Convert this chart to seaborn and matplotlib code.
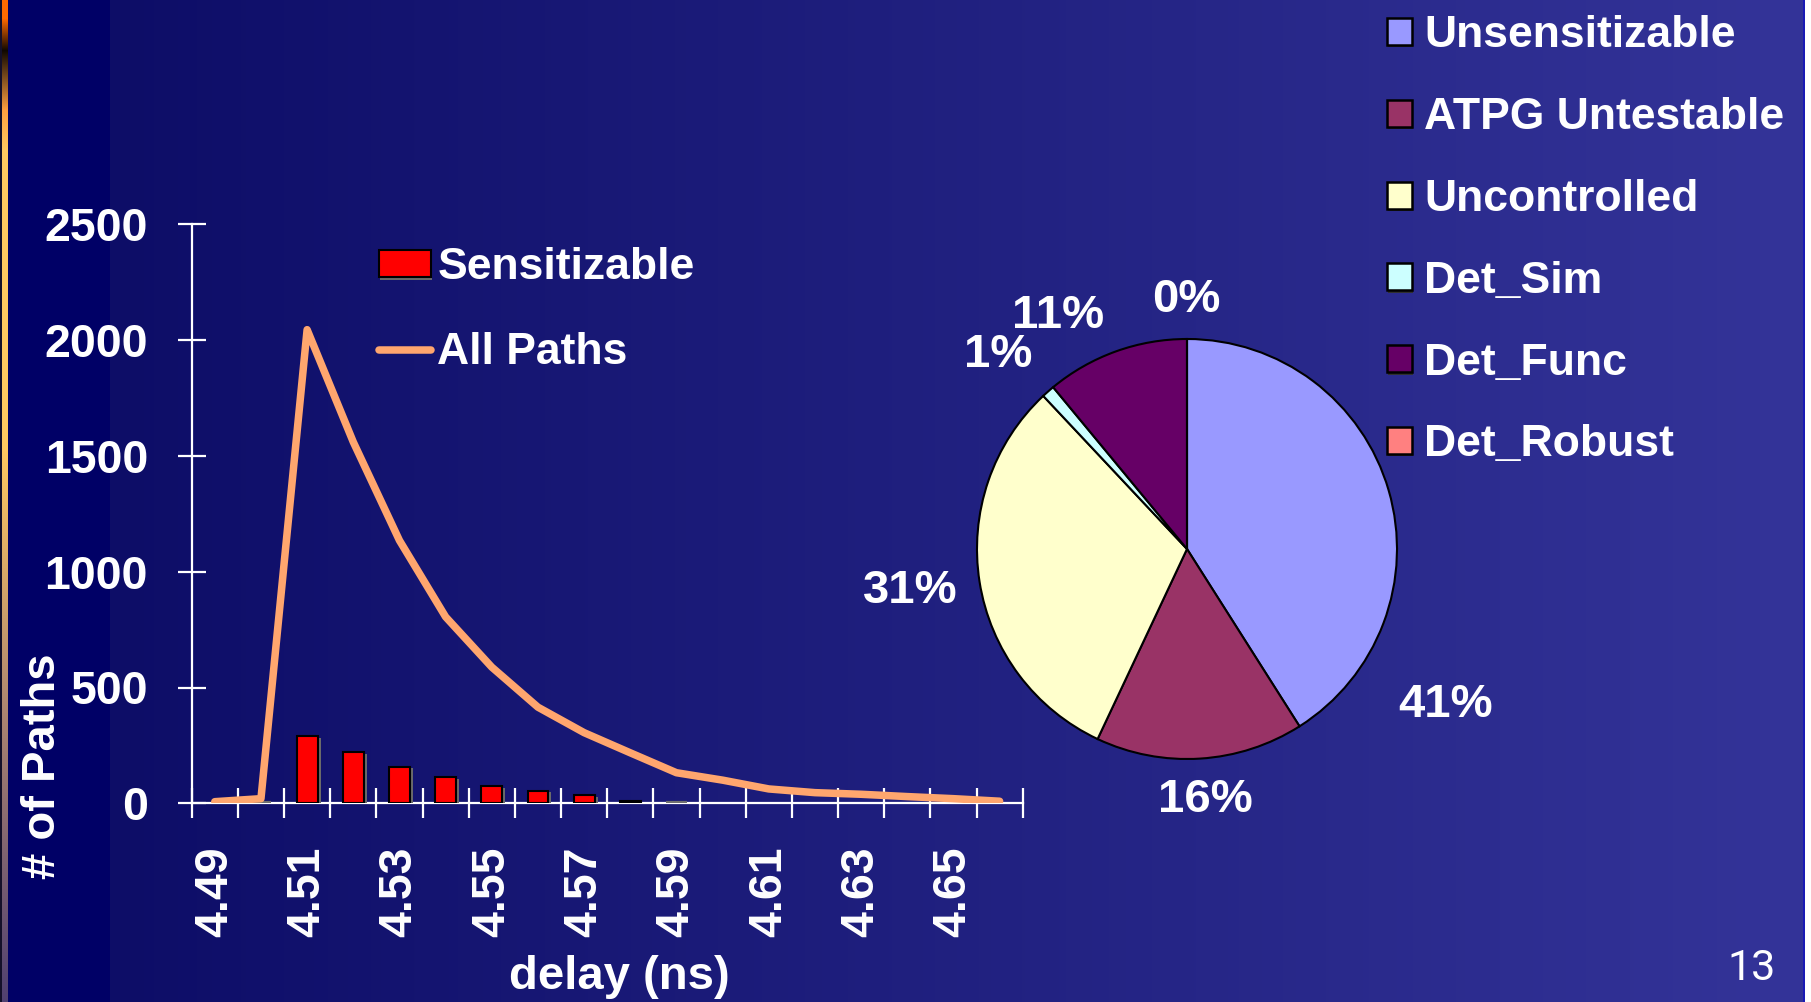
import numpy as np
import pandas as pd
import matplotlib
matplotlib.use("Agg")
import matplotlib.pyplot as plt
import seaborn as sns
from matplotlib import patheffects as pe
from matplotlib.patches import Rectangle
from matplotlib.lines import Line2D

# ---------------- data ----------------
delays = ["4.49", "4.50", "4.51", "4.52", "4.53", "4.54", "4.55", "4.56", "4.57",
          "4.58", "4.59", "4.60", "4.61", "4.62", "4.63", "4.64", "4.65", "4.66"]
all_paths = [7, 20, 2045, 1560, 1135, 805, 588, 415, 305,
             218, 132, 100, 62, 46, 39, 29, 20, 9]
sensitizable = [np.nan, 0, 290, 220, 158, 112, 75, 54, 36,
                10, 0, np.nan, np.nan, np.nan, np.nan, np.nan, np.nan, np.nan]

categories = ["Unsensitizable", "ATPG Untestable", "Uncontrolled",
              "Det_Sim", "Det_Func", "Det_Robust"]
shares = [41, 16, 31, 1, 11, 0]
pie_colors = ["#9999FF", "#993366", "#FFFFCC", "#CCFFFF", "#660066", "#FF8080"]

y_ticks = [0, 500, 1000, 1500, 2000, 2500]

# ---------------- style ----------------
sns.set_style("white")
plt.rcParams["font.family"] = ["Liberation Sans", "DejaVu Sans"]
plt.rcParams["font.weight"] = "bold"

W, H = 1811, 1002
fig = plt.figure(figsize=(W / 100, H / 100), dpi=100)
fig.patch.set_facecolor("white")

# ---------------- slide background ----------------
def hex_rgb(h):
    h = h.lstrip("#")
    return np.array([int(h[i:i + 2], 16) for i in (0, 2, 4)]) / 255.0

img = np.ones((H, W, 3))
xs = np.arange(W)
c0, c1 = hex_rgb("#0d0d67"), hex_rgb("#343499")
t = np.clip((xs - 110) / (1803 - 110), 0, 1)
row = c0[None, :] * (1 - t[:, None]) + c1[None, :] * t[:, None]
row[xs < 110] = hex_rgb("#000066")
row[xs >= 1803] = hex_rgb("#1a1ab4")
row[xs >= 1805] = 1.0
img[:] = row[None, :, :]
# decorative stripe along the left edge
ys = np.arange(H)
stops_y = [0, 18, 50, 110, 150, 450, 700, 1002]
stops_c = [hex_rgb(c) for c in ["#ff6a00", "#ff6a00", "#100800", "#ffa040",
                                "#ffc860", "#ffc860", "#b08870", "#504070"]]
stripe = np.stack([np.interp(ys, stops_y, [c[k] for c in stops_c]) for k in range(3)], axis=1)
img[:, 2:8, :] = stripe[:, None, :]
img[:, 0:2, :] = hex_rgb("#14102a")

bg = fig.add_axes([0, 0, 1, 1], zorder=-10)
bg.imshow(img, extent=(0, W, H, 0), aspect="auto", interpolation="bilinear")
bg.set_xlim(0, W)
bg.set_ylim(H, 0)
bg.axis("off")

# ---------------- path delay histogram ----------------
def fig_box(x0, y0, x1, y1):
    return [x0 / W, 1 - y1 / H, (x1 - x0) / W, (y1 - y0) / H]

ax = fig.add_axes(fig_box(191.7, 224.3, 1022.7, 803.3))
ax.set_facecolor("none")

df_bars = pd.DataFrame({"delay": delays, "paths": sensitizable}).dropna()
sns.barplot(data=df_bars, x="delay", y="paths", order=delays, color="#FF0000",
            saturation=1, width=0.45, edgecolor="black", linewidth=1.5,
            errorbar=None, ax=ax, zorder=2)
for p in ax.patches:
    p.set_path_effects([pe.SimplePatchShadow(offset=(2.2, -1.2), shadow_rgbFace="#6a6a6a", alpha=1.0),
                        pe.Normal()])
    if p.get_height() == 0:
        p.set_edgecolor("#707070")
        p.set_linewidth(3)

sns.lineplot(x=np.arange(len(delays)), y=all_paths, color="#FFA66E", linewidth=5.4,
             ax=ax, zorder=4, legend=False)
for ln in ax.lines:
    ln.set_solid_joinstyle("round")
    ln.set_solid_capstyle("round")

ax.set_xlim(-0.5, len(delays) - 0.5)
ax.set_ylim(0, 2500)
ax.set_yticks(y_ticks)
ax.set_yticklabels([str(v) for v in y_ticks])
ax.set_xticks(np.arange(-0.5, len(delays), 1.0))
ax.set_xticklabels([])
ax.set_xticks(np.arange(0, len(delays), 2), minor=True)
ax.set_xticklabels(delays[::2], minor=True, rotation=90)

ax.tick_params(axis="y", which="major", left=True, direction="inout", length=20,
               width=1.6, color="white", pad=21.5, labelsize=33.5, labelcolor="white")
ax.tick_params(axis="x", which="major", bottom=True, direction="inout", length=22,
               width=1.6, color="white")
ax.tick_params(axis="x", which="minor", bottom=True, direction="inout", length=0,
               pad=31, labelsize=33.5, labelcolor="white")
for s in ("top", "right"):
    ax.spines[s].set_visible(False)
for s in ("left", "bottom"):
    ax.spines[s].set_color("white")
    ax.spines[s].set_linewidth(1.6)
    ax.spines[s].set_zorder(1)

ax.set_xlabel("delay (ns)", color="white", fontsize=34, fontweight="bold")
ax.xaxis.set_label_coords(0.5148, -0.300)
ax.xaxis.label.set_va("center")
ax.set_ylabel("# of Paths", color="white", fontsize=34, fontweight="bold")
ax.yaxis.set_label_coords(-0.152, 0.0644)
ax.yaxis.label.set_va("bottom")
ax.yaxis.label.set_ha("center")

bar_handle = Rectangle((0, 0), 1, 1, facecolor="#FF0000", edgecolor="black", linewidth=1.5)
line_handle = Line2D([], [], color="#FFA66E", linewidth=5.4)
leg1 = ax.legend([bar_handle, line_handle], ["Sensitizable", "All Paths"],
                 loc="upper left", bbox_to_anchor=(379 / W, 1 - 247 / H),
                 bbox_transform=fig.transFigure, frameon=False,
                 prop={"size": 32, "weight": "bold"}, labelcolor="white",
                 handlelength=1.17, handleheight=0.54, handletextpad=0.14,
                 labelspacing=1.0, borderpad=0, borderaxespad=0)
for h in leg1.legend_handles:
    if isinstance(h, Rectangle):
        h.set_path_effects([pe.SimplePatchShadow(offset=(0.8, -2.5), shadow_rgbFace="#6a6a6a", alpha=1.0),
                            pe.Normal()])

# ---------------- category pie ----------------
cx, cy, r = 1187, 549, 210
axp = fig.add_axes(fig_box(cx - r, cy - r, cx + r, cy + r))
axp.set_facecolor("none")
wedges, _ = axp.pie(shares, colors=pie_colors, startangle=90, counterclock=False,
                    radius=1.0, wedgeprops=dict(edgecolor="black", linewidth=1.5))
axp.set_xlim(-1, 1)
axp.set_ylim(-1, 1)
axp.set_aspect("equal")
axp.axis("off")

label_pos = [(1.233, -0.743), (0.086, -1.195), (-1.319, -0.20),
             (-0.90, 0.924), (-0.614, 1.11), (-0.005, 1.186)]
for v, (lx, ly) in zip(shares, label_pos):
    axp.text(lx, ly, f"{v}%", ha="center", va="center", color="white",
             fontsize=34, fontweight="bold", clip_on=False)

pie_handles = [Rectangle((0, 0), 1, 1, facecolor=c, edgecolor="black", linewidth=1.8)
               for c in pie_colors]
leg2 = fig.legend(pie_handles, categories, loc="upper left",
                  bbox_to_anchor=(1387 / W, 1 - 15 / H), frameon=False,
                  prop={"size": 32, "weight": "bold"}, labelcolor="white",
                  handlelength=0.56, handleheight=0.56, handletextpad=0.27,
                  labelspacing=0.92, borderpad=0, borderaxespad=0)
for h in leg2.legend_handles:
    h.set_path_effects([pe.SimplePatchShadow(offset=(0.8, -1.6), shadow_rgbFace="#303030", alpha=1.0),
                        pe.Normal()])

# slide number
fig.text(1752 / W, 1 - 969 / H, "13", ha="center", va="center", color="white",
         fontsize=31, fontweight="normal", family=["Roboto", "DejaVu Sans"])

fig.savefig("out.png", dpi=100, facecolor=fig.get_facecolor())
